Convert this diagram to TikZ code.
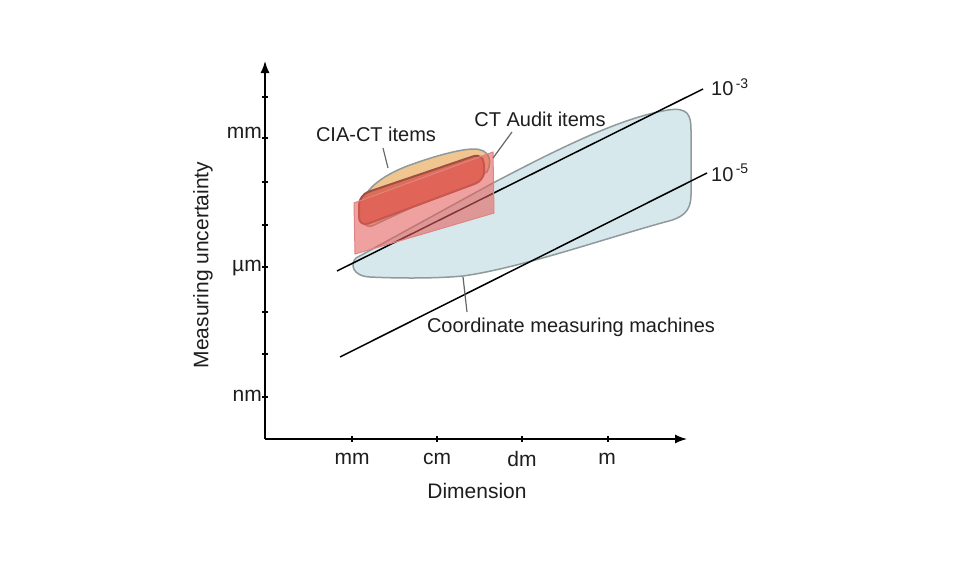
\documentclass[tikz,border=0pt]{standalone}
\usepackage{fontspec}
\setmainfont{Liberation Sans}
\usetikzlibrary{arrows.meta}
\definecolor{blobblue}{HTML}{D6E8EC}
\definecolor{blobgrey}{HTML}{8F9A9C}
\definecolor{peach}{HTML}{F0C590}
\definecolor{deepred}{HTML}{DC6E56}
\definecolor{deepredline}{HTML}{9E4E42}
\definecolor{pinkred}{HTML}{E45E5A}
\definecolor{pinkline}{HTML}{E08482}
\definecolor{txt}{HTML}{1E1E1E}
\tikzset{
  axis/.style={line width=1.4pt, draw=black, -{Latex[length=12pt,width=9pt]}},
  tickmark/.style={line width=1.1pt, draw=black},
  ticklabel/.style={text=txt, font=\fontsize{21}{24}\selectfont, inner sep=0pt},
  annot/.style={text=txt, font=\fontsize{20}{24}\selectfont, inner sep=0pt},
  ratio/.style={line width=1.5pt, draw=black},
  leader/.style={line width=1.2pt, draw=black!60},
}
\begin{document}
\begin{tikzpicture}[x=1pt,y=-1pt]
\useasboundingbox (0,0) rectangle (980,560);
\fill[white] (0,0) rectangle (980,560);

% CMM blob
\filldraw[fill=blobblue, draw=blobgrey, line width=1.5pt]
  (356,258) -- (493,183) .. controls (560,148) and (620,118) .. (668,110)
  .. controls (688,107) and (691,115) .. (691,130) -- (691,195)
  .. controls (691,212) and (682,218) .. (665,222)
  .. controls (600,240) and (520,268) .. (463,276)
  .. controls (430,279) and (390,278) .. (370,277)
  .. controls (352,276) and (350,264) .. (356,258) -- cycle;

% ratio lines
\coordinate (l3a) at (337,271);
\coordinate (l3b) at (703,89);
\coordinate (l5a) at (340,357);
\coordinate (l5b) at (707,173);
\draw[ratio] (l3a) -- (l3b);
\draw[ratio] (l5a) -- (l5b);
\node[annot, anchor=west] (r3) at (711,87) {10\textsuperscript{\,-3}};
\node[annot, anchor=west] (r5) at (711,173) {10\textsuperscript{\,-5}};

% CIA-CT blob
\filldraw[fill=peach, draw=blobgrey, line width=1.5pt]
  (361,212) .. controls (360,192) and (380,176) .. (410,165)
  .. controls (435,156) and (460,149) .. (474,149)
  .. controls (489,149) and (493,160) .. (487,172)
  -- (372,226) .. controls (364,228) and (361,220) .. (361,212) -- cycle;
\filldraw[fill=deepred, draw=deepredline, line width=2pt, rounded corners=10pt]
  (359,195) -- (483,153) -- (485,180) -- (359,227) -- cycle;

% CT Audit parallelogram
\filldraw[fill=pinkred, fill opacity=0.58, draw=pinkline, line width=1pt]
  (354,203) -- (493,152) -- (494,213) -- (355,254) -- cycle;

% axes
\coordinate (origin) at (265,439);
\coordinate (ytop) at (265,61);
\coordinate (xend) at (687,439);
\draw[axis] (origin) -- (ytop);
\draw[axis] (origin) -- (xend);
\foreach \yy in {97,138,182,225,267,312,354,397}
  \draw[tickmark] (262,\yy) -- (268,\yy);
\foreach \xx in {352,437,522,608}
  \draw[tickmark] (\xx,436) -- (\xx,442);

\node[ticklabel, anchor=east] (ymm) at (262,133) {mm};
\node[ticklabel, anchor=east] (yum) at (262,268) {µm};
\node[ticklabel, anchor=east] (ynm) at (262,396) {nm};
\node[ticklabel] (xmm) at (352,459) {mm};
\node[ticklabel] (xcm) at (437,459) {cm};
\node[ticklabel] (xdm) at (522,459) {dm};
\node[ticklabel] (xm) at (607,459) {m};
\node[ticklabel] (xlab) at (477,491) {Dimension};
\node[ticklabel, rotate=90] (ylab) at (203,265) {Measuring uncertainty};

% annotations
\node[annot] (ciact) at (376,134) {CIA-CT items};
\node[annot] (ctaudit) at (540,119) {CT Audit items};
\node[annot] (cmm) at (571,327) {Coordinate measuring machines};
\coordinate (ciatip) at (388,168);
\coordinate (audittip) at (493,158);
\coordinate (cmmtip) at (463,277);
\draw[leader] (383,148) -- (ciatip);
\draw[leader] (512,132) -- (audittip);
\draw[leader] (467,312) -- (cmmtip);
\end{tikzpicture}
\end{document}
